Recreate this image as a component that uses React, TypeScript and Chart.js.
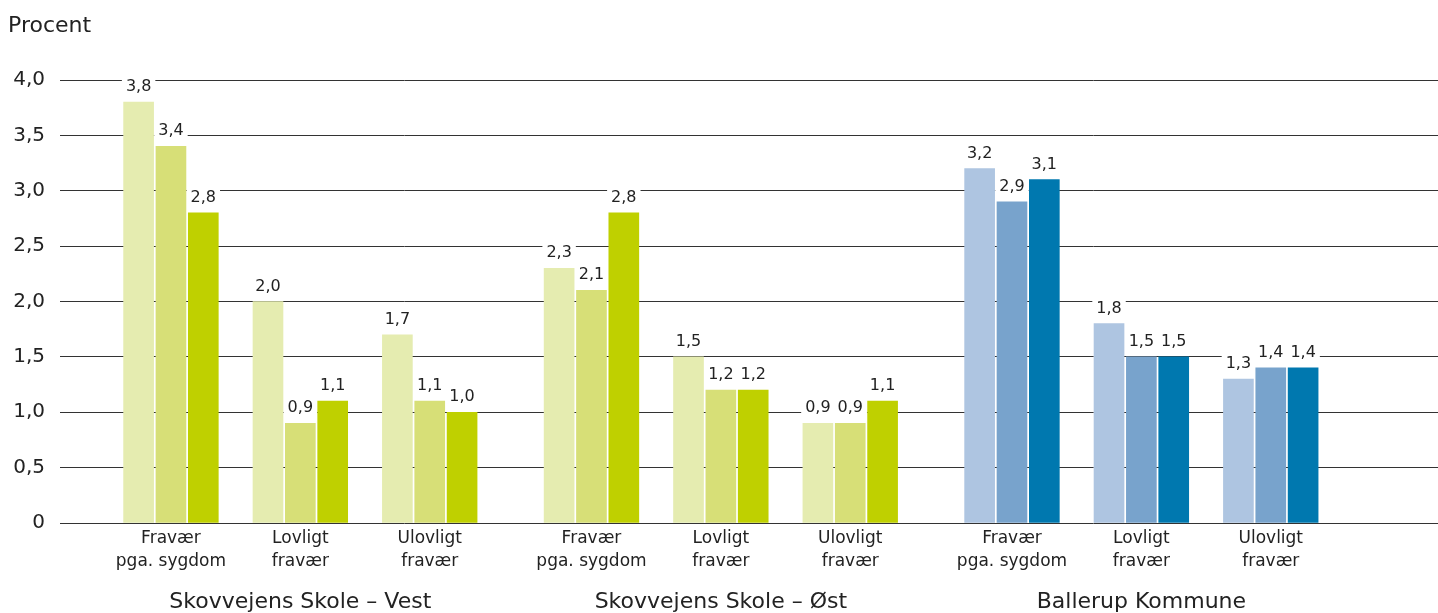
import React, { useEffect, useRef } from "react";
import { Chart, registerables } from "chart.js";

Chart.register(...registerables);

// ---- Data ----
const groupLabels = ["Skovvejens Skole – Vest", "Skovvejens Skole – Øst", "Ballerup Kommune"];
const categoryLabels = [
  ["Fravær", "pga. sygdom"],
  ["Lovligt", "fravær"],
  ["Ulovligt", "fravær"],
];
// one value per (group, category), in order Vest(3), Øst(3), Ballerup(3)
const series1 = [3.8, 2.0, 1.7, 2.3, 1.5, 0.9, 3.2, 1.8, 1.3];
const series2 = [3.4, 0.9, 1.1, 2.1, 1.2, 0.9, 2.9, 1.5, 1.4];
const series3 = [2.8, 1.1, 1.0, 2.8, 1.2, 1.1, 3.1, 1.5, 1.4];
const yTicks = [0, 0.5, 1, 1.5, 2, 2.5, 3, 3.5, 4];

// ---- Styles ----
const greens = ["#E5ECB0", "#D7DF77", "#BFD000"];
const blues = ["#AEC5E1", "#78A3CC", "#0078AF"];
const groupPalettes = [greens, greens, blues];
const FONT = "'DejaVu Sans', sans-serif";
const TEXT = "#222222";

// layout in bar-slot units
const SLOTS_PER_CAT = 4;
const CATS_PER_GROUP = 3;
const GROUP_SLOTS = CATS_PER_GROUP * SLOTS_PER_CAT + 1;
const pos = (g: number, c: number, b: number) => g * GROUP_SLOTS + c * SLOTS_PER_CAT + b;

const fmt = (v: number) => (v === 0 ? "0" : v.toFixed(1).replace(".", ","));

const allSeries = [series1, series2, series3];

export default function App() {
  const ref = useRef<HTMLCanvasElement | null>(null);

  useEffect(() => {
    if (!ref.current) return;

    const datasets = allSeries.map((vals, s) => ({
      label: `Serie ${s + 1}`,
      data: vals.map((v, i) => ({
        x: pos(Math.floor(i / CATS_PER_GROUP), i % CATS_PER_GROUP, s),
        y: v,
      })),
      backgroundColor: vals.map((_, i) => groupPalettes[Math.floor(i / CATS_PER_GROUP)][s]),
      borderWidth: 0,
      barThickness: 30,
      grouped: false,
    }));

    const catTicks: number[] = [];
    const catTickLabels: string[][] = [];
    groupLabels.forEach((_, g) =>
      categoryLabels.forEach((lab, c) => {
        catTicks.push(pos(g, c, 1));
        catTickLabels.push(lab);
      })
    );
    const groupTicks = groupLabels.map((_, g) => pos(g, 1, 1));

    const labelPlugin = {
      id: "valueLabels",
      beforeDatasetsDraw(chart: any) {
        const ctx = chart.ctx;
        ctx.save();
        ctx.font = `16px ${FONT}`;
        chart.data.datasets.forEach((ds: any, di: number) => {
          const meta = chart.getDatasetMeta(di);
          meta.data.forEach((el: any, i: number) => {
            const t = fmt(ds.data[i].y);
            const w = ctx.measureText(t).width;
            const base = el.y - 11;
            ctx.fillStyle = "#ffffff";
            ctx.fillRect(el.x - w / 2 - 4, base - 16, w + 8, 20);
          });
        });
        ctx.restore();
      },
      afterDatasetsDraw(chart: any) {
        const ctx = chart.ctx;
        ctx.save();
        ctx.font = `16px ${FONT}`;
        ctx.fillStyle = TEXT;
        ctx.textAlign = "center";
        ctx.textBaseline = "alphabetic";
        chart.data.datasets.forEach((ds: any, di: number) => {
          const meta = chart.getDatasetMeta(di);
          meta.data.forEach((el: any, i: number) => {
            ctx.fillText(fmt(ds.data[i].y), el.x, el.y - 11);
          });
        });
        ctx.restore();
      },
      afterDraw(chart: any) {
        const ctx = chart.ctx;
        ctx.save();
        ctx.font = `22px ${FONT}`;
        ctx.fillStyle = TEXT;
        ctx.textAlign = "left";
        ctx.textBaseline = "alphabetic";
        ctx.fillText("Procent", 8, 32);
        ctx.restore();
      },
    };

    const chart = new Chart(ref.current, {
      type: "bar",
      data: { datasets: datasets as any },
      options: {
        responsive: false,
        animation: false,
        events: [],
        layout: { padding: { top: 80, left: 0, right: 0, bottom: 0 } },
        plugins: {
          legend: { display: false },
          title: { display: false },
          tooltip: { enabled: false },
        },
        scales: {
          x: {
            type: "linear",
            position: "bottom",
            weight: 0,
            min: -2.43,
            max: 40.17,
            offset: false,
            bounds: "data",
            grid: { display: false, drawTicks: false },
            border: { display: false },
            afterBuildTicks: (axis: any) => {
              axis.ticks = catTicks.map((v) => ({ value: v }));
            },
            afterFit: (axis: any) => {
              axis.height = 50;
            },
            ticks: {
              autoSkip: false,
              maxRotation: 0,
              minRotation: 0,
              padding: 4,
              color: TEXT,
              font: { family: FONT, size: 17, lineHeight: 1.35 },
              callback: (_v: any, i: number) => catTickLabels[i],
            },
          } as any,
          x2: {
            type: "linear",
            position: "bottom",
            axis: "x",
            weight: 1,
            min: -2.43,
            max: 40.17,
            offset: false,
            bounds: "data",
            grid: { display: false, drawTicks: false },
            border: { display: false },
            afterBuildTicks: (axis: any) => {
              axis.ticks = groupTicks.map((v) => ({ value: v }));
            },
            afterFit: (axis: any) => {
              axis.height = 40;
            },
            ticks: {
              autoSkip: false,
              maxRotation: 0,
              minRotation: 0,
              padding: 16,
              color: TEXT,
              font: { family: FONT, size: 22 },
              callback: (_v: any, i: number) => groupLabels[i],
            },
          } as any,
          y: {
            type: "linear",
            min: 0,
            max: 4,
            grid: { color: "#333333", lineWidth: 1, drawTicks: false },
            border: { display: false },
            afterBuildTicks: (axis: any) => {
              axis.ticks = yTicks.map((v) => ({ value: v }));
            },
            afterFit: (axis: any) => {
              axis.width = 60;
            },
            ticks: {
              padding: 15,
              color: TEXT,
              font: { family: FONT, size: 20 },
              callback: (v: any) => fmt(Number(v)),
            },
          } as any,
        },
      },
      plugins: [labelPlugin],
    });

    return () => chart.destroy();
  }, []);

  return (
    <div style={{ position: "fixed", left: 0, top: 0, width: 1438, height: 613, background: "#fff" }}>
      <canvas ref={ref} width={1438} height={613} style={{ display: "block" }} />
    </div>
  );
}
